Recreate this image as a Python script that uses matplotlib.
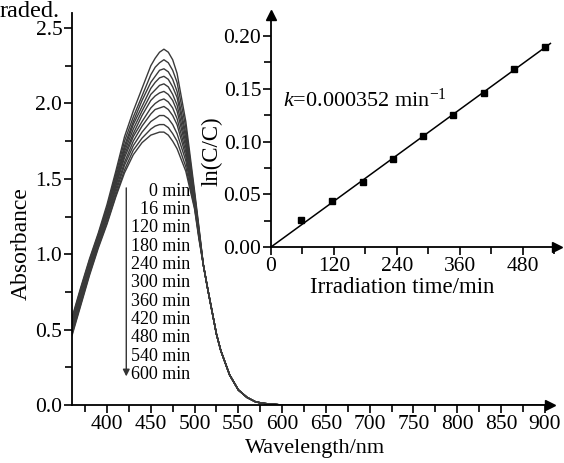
import numpy as np
import matplotlib
matplotlib.use("Agg")
import matplotlib.pyplot as plt
from matplotlib.ticker import MultipleLocator, FormatStrFormatter

plt.rcParams['font.family'] = ['Liberation Serif', 'DejaVu Serif']
plt.rcParams['mathtext.fontset'] = 'custom'
plt.rcParams['mathtext.rm'] = 'Liberation Serif'
plt.rcParams['mathtext.it'] = 'Liberation Serif:italic'

# ---------------- data ----------------
time_labels = ["0 min", "16 min", "120 min", "180 min", "240 min", "300 min",
               "360 min", "420 min", "480 min", "540 min", "600 min"]

wl_head = [360, 370, 380, 390, 400, 410, 420, 430, 440, 450, 455, 460, 465,
           470, 475, 480, 490, 500, 505]
absorb_head = [
    [0.58, 0.78, 0.97, 1.14, 1.33, 1.55, 1.78, 1.95, 2.10, 2.25, 2.30, 2.34, 2.36, 2.34, 2.29, 2.20, 1.88, 1.42, 1.18],
    [0.57, 0.77, 0.96, 1.13, 1.31, 1.53, 1.75, 1.91, 2.05, 2.19, 2.24, 2.27, 2.29, 2.27, 2.22, 2.14, 1.84, 1.40, 1.17],
    [0.55, 0.75, 0.94, 1.12, 1.30, 1.51, 1.72, 1.88, 2.02, 2.14, 2.18, 2.22, 2.23, 2.21, 2.16, 2.08, 1.80, 1.39, 1.16],
    [0.54, 0.74, 0.93, 1.11, 1.29, 1.49, 1.70, 1.86, 1.98, 2.10, 2.14, 2.17, 2.18, 2.16, 2.11, 2.04, 1.77, 1.38, 1.15],
    [0.53, 0.73, 0.92, 1.10, 1.28, 1.48, 1.68, 1.83, 1.95, 2.06, 2.09, 2.12, 2.13, 2.11, 2.06, 1.99, 1.74, 1.37, 1.15],
    [0.52, 0.72, 0.91, 1.09, 1.26, 1.46, 1.66, 1.80, 1.92, 2.02, 2.05, 2.07, 2.08, 2.06, 2.02, 1.95, 1.71, 1.36, 1.14],
    [0.51, 0.71, 0.90, 1.08, 1.25, 1.45, 1.64, 1.78, 1.88, 1.97, 2.00, 2.02, 2.03, 2.01, 1.97, 1.90, 1.68, 1.35, 1.13],
    [0.50, 0.70, 0.89, 1.07, 1.24, 1.43, 1.61, 1.75, 1.85, 1.93, 1.96, 1.97, 1.98, 1.96, 1.92, 1.86, 1.65, 1.34, 1.12],
    [0.48, 0.68, 0.88, 1.06, 1.23, 1.41, 1.59, 1.72, 1.81, 1.88, 1.90, 1.92, 1.92, 1.90, 1.86, 1.80, 1.62, 1.32, 1.12],
    [0.47, 0.67, 0.87, 1.05, 1.21, 1.39, 1.56, 1.69, 1.77, 1.83, 1.85, 1.86, 1.86, 1.84, 1.80, 1.75, 1.58, 1.31, 1.11],
    [0.46, 0.66, 0.86, 1.04, 1.20, 1.38, 1.54, 1.66, 1.74, 1.79, 1.80, 1.81, 1.81, 1.79, 1.75, 1.70, 1.55, 1.30, 1.10],
]
wl_tail = [510, 515, 520, 525, 530, 540, 550, 560, 570, 580, 600, 650, 700, 800, 900]
absorb_tail = [0.93, 0.77, 0.62, 0.47, 0.36, 0.20, 0.10, 0.05, 0.02, 0.01, 0.0, 0.0, 0.0, 0.0, 0.0]

irr_time = [58, 116, 175, 232, 289, 346, 406, 463, 522]
ln_ratio = [0.0256, 0.0436, 0.0616, 0.0837, 0.1055, 0.1248, 0.1460, 0.1684, 0.1896]
k_text = r"$k$=0.000352 min$^{-1}$"

# ---------------- figure ----------------
W, H = 564, 463
fig = plt.figure(figsize=(W / 100, H / 100), dpi=100)

def frac(x0, y0, x1, y1):
    return [x0 / W, 1 - y1 / H, (x1 - x0) / W, (y1 - y0) / H]

ax = fig.add_axes(frac(72, 13, 550, 405))
wl = np.array(wl_head + wl_tail)
for row in absorb_head:
    ax.plot(wl, np.array(row + absorb_tail), color='#3a3a3a', lw=1.0)

def style(a, fs=15.5):
    for s in ['top', 'right']:
        a.spines[s].set_visible(False)
    for s in ['left', 'bottom']:
        a.spines[s].set_linewidth(1.3)
    a.tick_params(which='major', direction='out', length=6, width=1.2, labelsize=fs, pad=1)
    a.tick_params(which='minor', direction='out', length=5, width=1.2)
    a.plot(1, 0, marker='>', color='k', ms=7, transform=a.get_yaxis_transform(), clip_on=False)
    a.plot(0, 1, marker='^', color='k', ms=7, transform=a.get_xaxis_transform(), clip_on=False)

style(ax)
ax.set_xticks(np.arange(400, 901, 50))
ax.set_xticks(np.arange(375, 900, 50), minor=True)
ax.yaxis.set_major_locator(MultipleLocator(0.5))
ax.yaxis.set_minor_locator(MultipleLocator(0.25))
ax.yaxis.set_major_formatter(FormatStrFormatter('%.1f'))
ax.set_xlim(360, 906)
ax.set_ylim(0, 2.6)

ax.set_xlabel("Wavelength/nm", fontsize=16)
ax.set_ylabel("Absorbance", fontsize=17)
ax.xaxis.set_label_coords(0.508, -0.088)
ax.yaxis.set_label_coords(-0.085, 0.413)

ax.text(495, 0.81, "\n".join(time_labels), ha='right', va='center',
        multialignment='right', fontsize=13, linespacing=1.1)
ax.annotate('', xy=(422, 0.19), xytext=(422, 1.44),
            arrowprops=dict(arrowstyle='-|>', color='#333333', lw=1.0,
                            mutation_scale=10, shrinkA=0, shrinkB=0))

# ---------------- inset ----------------
ins = fig.add_axes(frac(271, 15, 557, 247))
ins.patch.set_alpha(0)
t = np.array(irr_time, dtype=float)
y = np.array(ln_ratio)
k_fit = np.sum(t * y) / np.sum(t * t)
t_line = np.array([0, t.max() * 1.02])
ins.plot(t_line, k_fit * t_line, color='k', lw=1.1)
ins.plot(t, y, 's', color='k', ms=4.5)
style(ins)
ins.set_xticks(np.arange(0, 481, 120))
ins.set_xticks(np.arange(60, 545, 60), minor=True)
ins.set_yticks(np.arange(0, 0.201, 0.05))
ins.set_yticks(np.arange(0.025, 0.22, 0.05), minor=True)
ins.yaxis.set_major_formatter(FormatStrFormatter('%.2f'))
ins.set_xlim(0, 545)
ins.set_ylim(0, 0.22)
ins.set_xlabel("Irradiation time/min", fontsize=16.5)
ins.set_ylabel("ln(C/C)", fontsize=16.5)
ins.xaxis.set_label_coords(0.46, -0.13)
ins.yaxis.set_label_coords(-0.171, 0.414)
ins.text(23, 0.139, k_text, fontsize=16, va='center', ha='left')

fig.text(0.0, 1 - 17 / H, "raded.", fontsize=17.5, ha='left', va='baseline')

fig.savefig("out.png", dpi=100)
